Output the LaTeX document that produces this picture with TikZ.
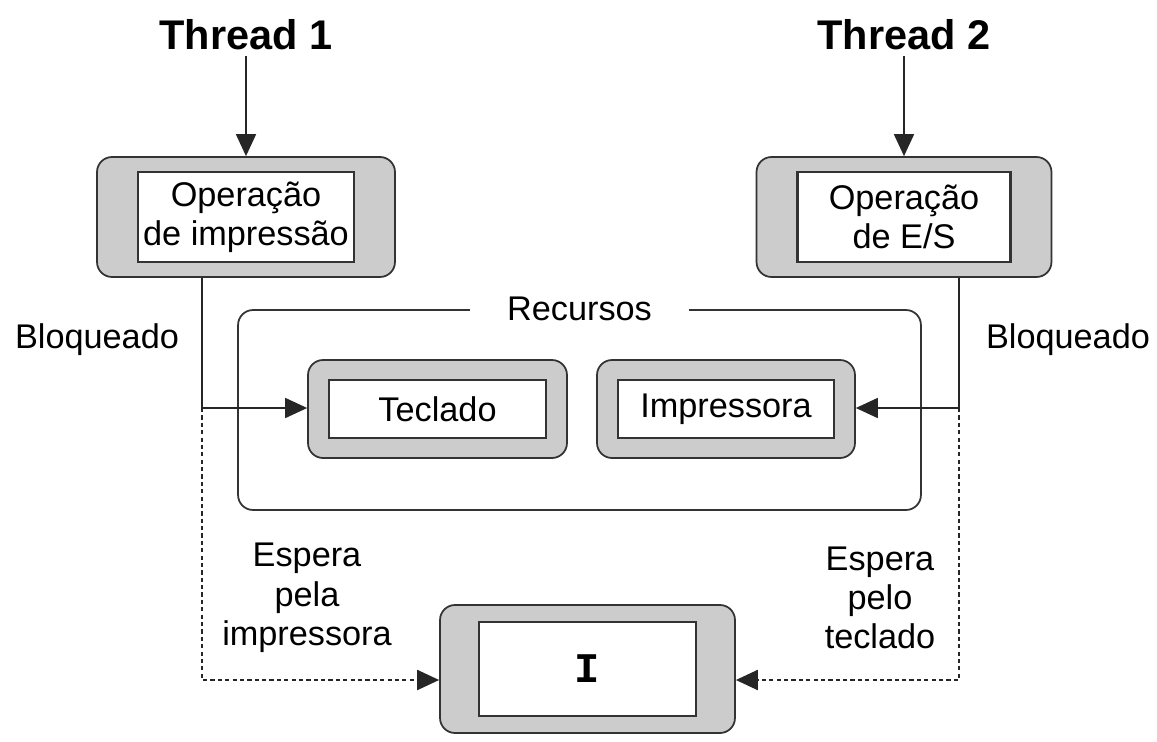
\documentclass[tikz,border=0pt]{standalone}
\usepackage{fontspec}
\setmainfont{Liberation Sans}
\setmonofont{Liberation Mono}
\usetikzlibrary{arrows.meta,positioning}

\begin{document}
\begin{tikzpicture}[
        x=0.02cm, y=-0.02cm,
        every node/.style={font=\fontsize{19.5}{22.4}\selectfont},
        title/.style={font=\fontsize{23.6}{27}\selectfont\bfseries},
        outer/.style={draw=black!80, fill=gray!40, line width=1pt, rounded corners=0.3cm},
        inner/.style={draw=black!80, fill=white, line width=1.3pt, align=center, inner sep=0pt},
        frame/.style={draw=black!80, line width=1pt, rounded corners=0.3cm},
        arrow/.style={line width=1pt, draw=black!85, -{Triangle[length=0.44cm,width=0.4cm]}},
        waitline/.style={arrow, line width=1.2pt, dash pattern=on 2.4pt off 1.8pt}
    ]
        \useasboundingbox (0,0) rectangle (1157,741);

        % Nodes
        \node[title] (t1) at (246,35) {Thread 1};
        \node[title] (t2) at (904,35) {Thread 2};

        \node[outer, minimum width=5.96cm, minimum height=2.4cm] (opimp) at (246,217) {};
        \node[inner, minimum width=4.32cm, minimum height=1.8cm] (opimptxt) at (opimp) {Operação\\de impressão};
        \node[outer, minimum width=5.9cm, minimum height=2.4cm] (opes) at (904,217) {};
        \node[inner, minimum width=4.26cm, minimum height=1.8cm] (opestxt) at (opes) {Operação\\de E/S};

        \node[frame, minimum width=13.66cm, minimum height=4cm] (recursos) at (579.5,410) {};
        \node[fill=white, inner xsep=0.74cm] (recursostxt) at (recursos.north) {Recursos};

        \node[outer, minimum width=5.18cm, minimum height=1.96cm] (teclado) at (437.5,409) {};
        \node[inner, minimum width=4.34cm, minimum height=1.16cm] (tecladotxt) at (teclado) {Teclado};
        \node[outer, minimum width=5.16cm, minimum height=1.96cm] (impressora) at (726,409) {};
        \node[inner, minimum width=4.32cm, minimum height=1.16cm] (impressoratxt) at (impressora) {Impressora};

        \node[outer, minimum width=5.9cm, minimum height=2.56cm] (deadlock) at (587.5,669) {};
        \node[inner, minimum width=4.34cm, minimum height=1.88cm, font=\fontsize{24}{28}\selectfont\ttfamily\bfseries] (deadlocktxt) at (deadlock) {I};

        \node (bloq1) at (97,340) {Bloqueado};
        \node (bloq2) at (1068,340) {Bloqueado};
        \node[align=center] (espera1) at (307,598) {Espera\\pela\\impressora};
        \node[align=center] (espera2) at (880,598) {Espera\\pelo\\teclado};

        \coordinate (lx) at (202,408);
        \coordinate (rx) at (959,408);

        % Arrows
        \draw[arrow] (t1) -- (opimp);
        \draw[arrow] (t2) -- (opes);
        \draw[arrow] (lx |- opimp.south) -- (lx) -- (teclado.west |- lx);
        \draw[arrow] (rx |- opes.south) -- (rx) -- (impressora.east |- rx);
        \draw[waitline] (lx) |- ([yshift=-0.22cm]deadlock.west);
        \draw[waitline] (rx) |- ([yshift=-0.22cm]deadlock.east);

    \end{tikzpicture}
\end{document}
